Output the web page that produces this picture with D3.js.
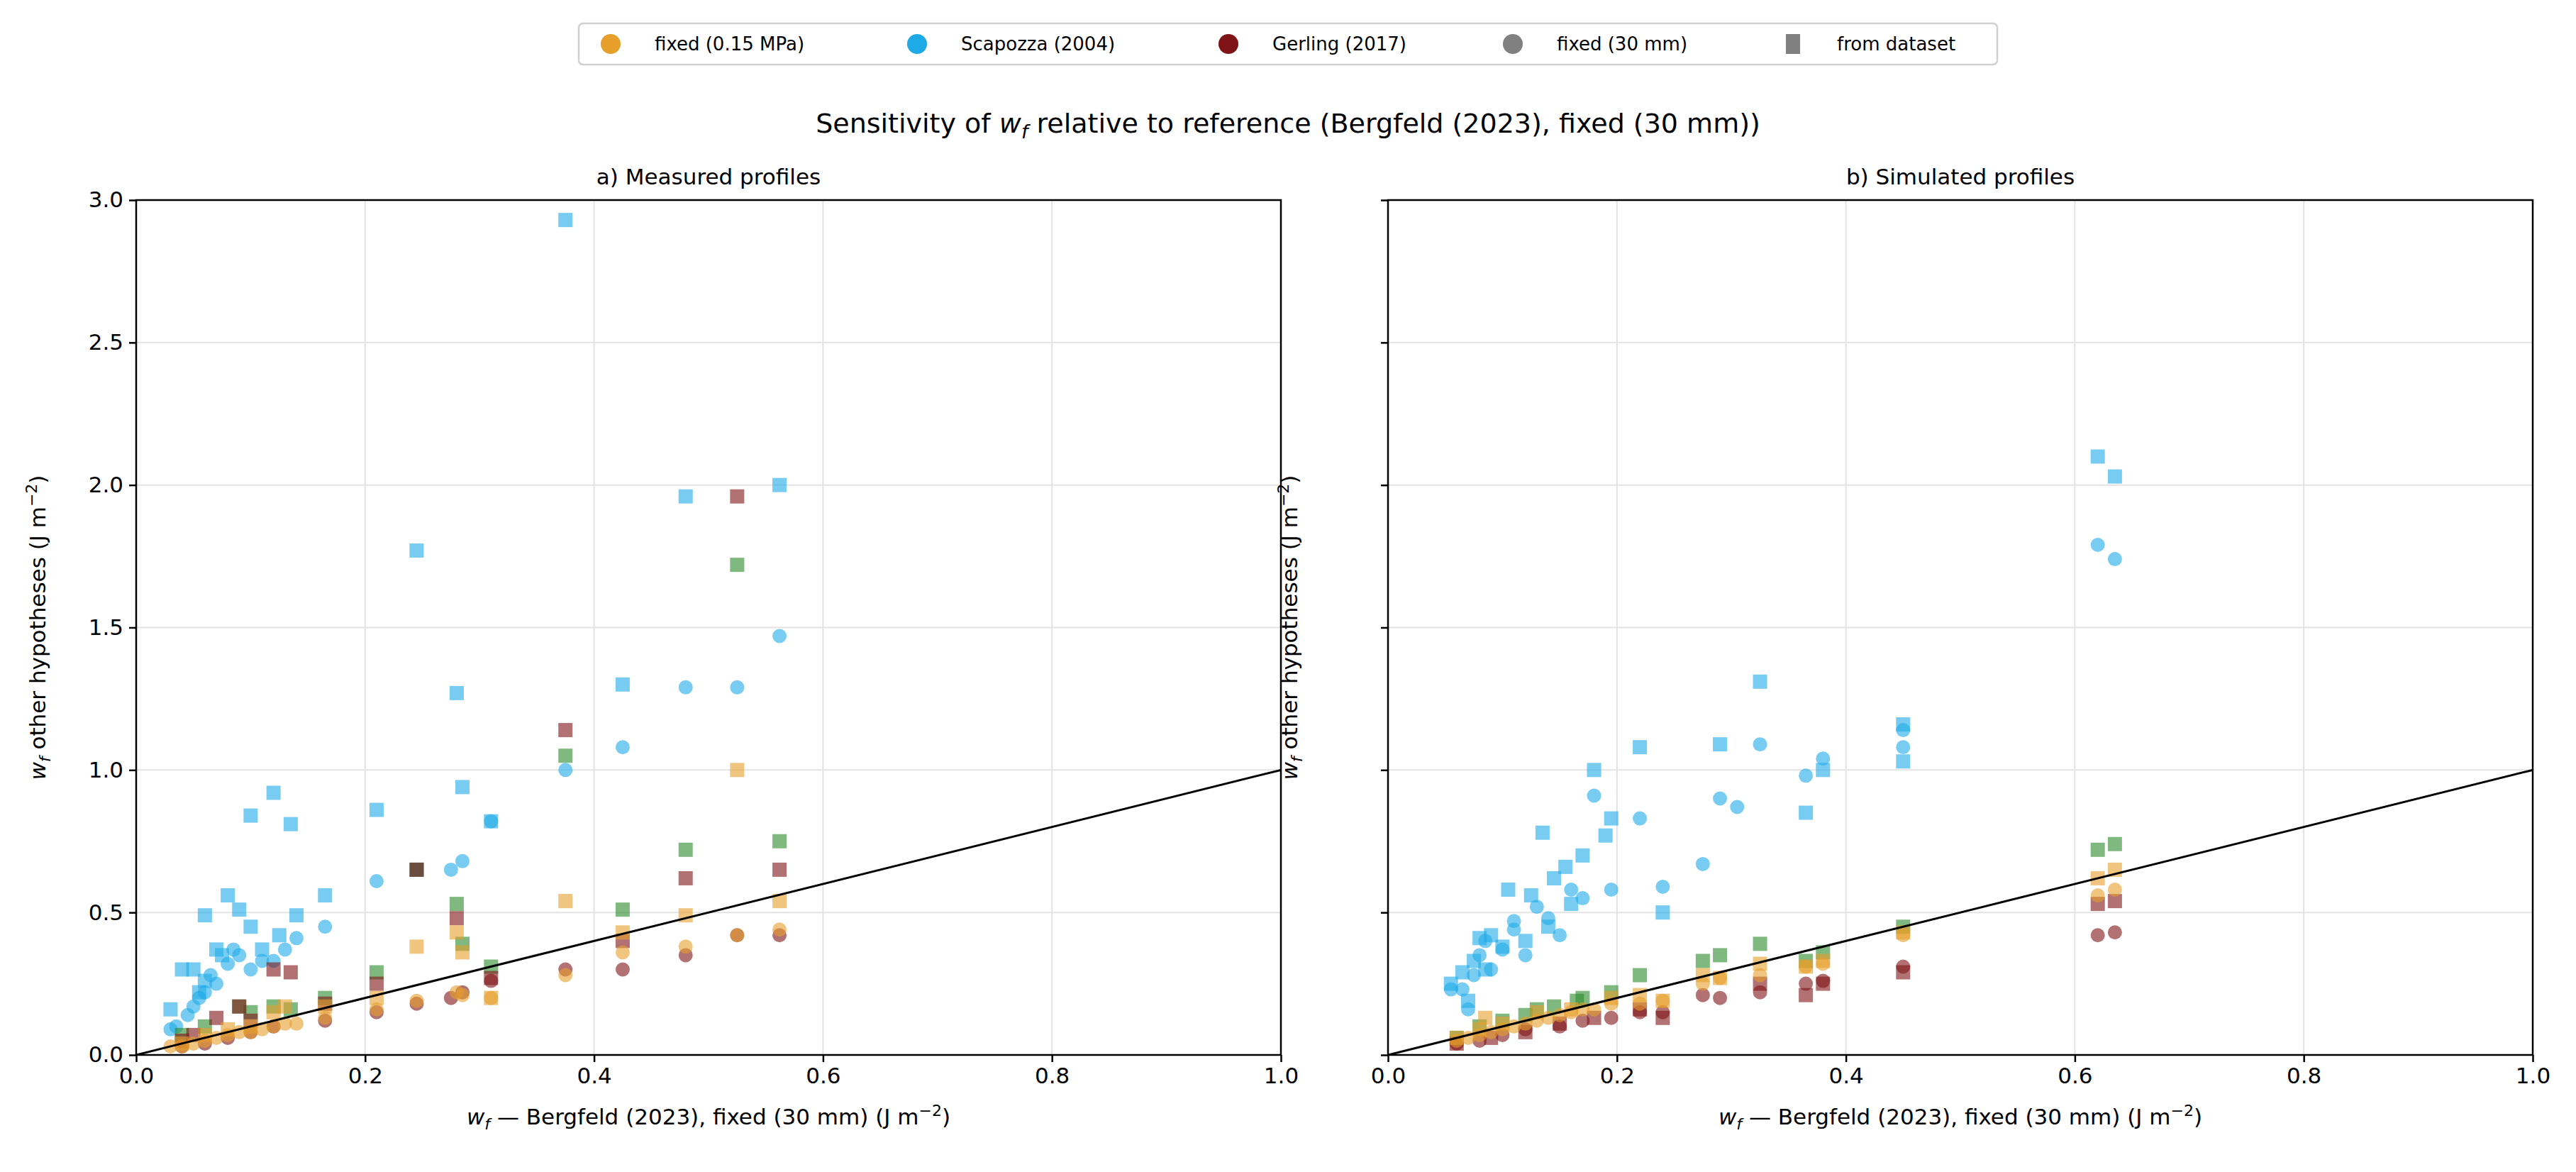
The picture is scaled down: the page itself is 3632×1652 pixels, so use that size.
<!DOCTYPE html>
<html><head><meta charset="utf-8">
<script src="https://cdn.jsdelivr.net/npm/d3@7"></script>
<style>body{margin:0;background:#fff;font-family:"DejaVu Sans",sans-serif;}</style>
</head><body><div id="chart"></div>
<script>
// hypotheses: [x, y] pairs
var colors = {orange: "#e69f2b", blue: "#1eaae7", red: "#7f1416", green: "#2a8a2a"};

var aBlueSq = [[0.375,2.93],[0.245,1.77],[0.28,1.27],[0.48,1.96],[0.562,2.0],[0.425,1.30],[0.285,0.94],[0.31,0.82],[0.21,0.86],[0.12,0.92],[0.10,0.84],[0.135,0.81],[0.245,0.65],[0.165,0.56],[0.08,0.56],[0.14,0.49],[0.06,0.49],[0.09,0.51],[0.10,0.45],[0.04,0.30],[0.03,0.16],[0.05,0.30],[0.07,0.37],[0.11,0.37],[0.125,0.42],[0.055,0.22],[0.06,0.26],[0.075,0.35]];
var aBlueCi = [[0.562,1.47],[0.48,1.29],[0.525,1.29],[0.425,1.08],[0.375,1.0],[0.31,0.82],[0.285,0.68],[0.275,0.65],[0.21,0.61],[0.165,0.45],[0.14,0.41],[0.13,0.37],[0.12,0.33],[0.10,0.30],[0.09,0.35],[0.08,0.32],[0.07,0.25],[0.06,0.22],[0.055,0.20],[0.05,0.17],[0.045,0.14],[0.035,0.10],[0.03,0.09],[0.065,0.28],[0.11,0.33],[0.085,0.37]];
var aGreenSq = [[0.525,1.72],[0.375,1.05],[0.48,0.72],[0.562,0.75],[0.425,0.51],[0.28,0.53],[0.285,0.39],[0.31,0.31],[0.21,0.29],[0.165,0.20],[0.245,0.65],[0.12,0.17],[0.09,0.17],[0.06,0.10],[0.04,0.07],[0.135,0.16],[0.10,0.15]];
var aRedSq = [[0.525,1.96],[0.375,1.14],[0.562,0.65],[0.48,0.62],[0.28,0.48],[0.245,0.65],[0.31,0.27],[0.21,0.25],[0.425,0.40],[0.165,0.18],[0.12,0.30],[0.135,0.29],[0.09,0.17],[0.07,0.13],[0.05,0.07],[0.04,0.05],[0.10,0.12]];
var aOrangeSq = [[0.525,1.0],[0.375,0.54],[0.245,0.38],[0.28,0.43],[0.562,0.54],[0.48,0.49],[0.425,0.43],[0.31,0.20],[0.285,0.36],[0.21,0.20],[0.165,0.17],[0.12,0.15],[0.13,0.17],[0.08,0.09],[0.06,0.07],[0.04,0.04],[0.10,0.10]];
var aOrangeCi = [[0.562,0.44],[0.525,0.42],[0.48,0.38],[0.425,0.36],[0.375,0.28],[0.285,0.21],[0.28,0.22],[0.245,0.19],[0.21,0.16],[0.165,0.13],[0.14,0.11],[0.12,0.10],[0.10,0.08],[0.08,0.07],[0.07,0.06],[0.06,0.05],[0.05,0.04],[0.04,0.03],[0.03,0.03],[0.09,0.08],[0.11,0.09],[0.13,0.11],[0.31,0.20]];
var aRedCi = [[0.562,0.42],[0.525,0.42],[0.48,0.35],[0.425,0.30],[0.375,0.30],[0.285,0.22],[0.275,0.20],[0.31,0.26],[0.245,0.18],[0.21,0.15],[0.165,0.12],[0.12,0.10],[0.10,0.08],[0.08,0.06],[0.06,0.04],[0.04,0.03]];

var bBlueSq = [[0.62,2.10],[0.635,2.03],[0.325,1.31],[0.45,1.16],[0.45,1.03],[0.22,1.08],[0.29,1.09],[0.18,1.0],[0.38,1.0],[0.365,0.85],[0.195,0.83],[0.19,0.77],[0.135,0.78],[0.17,0.70],[0.155,0.66],[0.145,0.62],[0.24,0.50],[0.105,0.58],[0.125,0.56],[0.16,0.53],[0.09,0.42],[0.08,0.41],[0.1,0.38],[0.14,0.45],[0.075,0.33],[0.055,0.25],[0.065,0.29],[0.07,0.19],[0.12,0.40],[0.085,0.30]];
var bBlueCi = [[0.62,1.79],[0.635,1.74],[0.45,1.14],[0.45,1.08],[0.325,1.09],[0.38,1.04],[0.365,0.98],[0.18,0.91],[0.29,0.90],[0.305,0.87],[0.22,0.83],[0.275,0.67],[0.24,0.59],[0.195,0.58],[0.16,0.58],[0.17,0.55],[0.13,0.52],[0.14,0.48],[0.11,0.47],[0.085,0.40],[0.1,0.37],[0.12,0.35],[0.09,0.30],[0.075,0.28],[0.065,0.23],[0.055,0.23],[0.07,0.16],[0.11,0.44],[0.15,0.42],[0.08,0.35]];
var bGreenSq = [[0.635,0.74],[0.62,0.72],[0.45,0.45],[0.325,0.39],[0.29,0.35],[0.275,0.33],[0.365,0.33],[0.38,0.36],[0.22,0.28],[0.195,0.22],[0.165,0.19],[0.13,0.16],[0.1,0.12],[0.08,0.10],[0.06,0.06],[0.17,0.20],[0.145,0.17],[0.12,0.14]];
var bRedSq = [[0.635,0.54],[0.62,0.53],[0.45,0.29],[0.365,0.21],[0.24,0.13],[0.38,0.25],[0.325,0.25],[0.22,0.16],[0.18,0.13],[0.15,0.11],[0.12,0.08],[0.09,0.06],[0.06,0.04]];
var bOrangeSq = [[0.635,0.65],[0.62,0.62],[0.45,0.43],[0.325,0.32],[0.29,0.27],[0.275,0.28],[0.365,0.31],[0.38,0.33],[0.22,0.21],[0.195,0.20],[0.24,0.19],[0.13,0.15],[0.1,0.11],[0.08,0.09],[0.06,0.06],[0.16,0.16],[0.085,0.13]];
var bOrangeCi = [[0.635,0.58],[0.62,0.56],[0.45,0.42],[0.38,0.32],[0.365,0.31],[0.325,0.28],[0.29,0.27],[0.275,0.25],[0.24,0.19],[0.22,0.18],[0.195,0.18],[0.17,0.16],[0.15,0.14],[0.13,0.12],[0.11,0.10],[0.09,0.08],[0.07,0.06],[0.06,0.05],[0.08,0.07],[0.1,0.09],[0.12,0.11],[0.14,0.13],[0.16,0.15],[0.18,0.16]];
var bRedCi = [[0.635,0.43],[0.62,0.42],[0.45,0.31],[0.38,0.26],[0.365,0.25],[0.325,0.22],[0.29,0.20],[0.275,0.21],[0.24,0.15],[0.22,0.15],[0.195,0.13],[0.17,0.12],[0.15,0.10],[0.12,0.09],[0.1,0.07],[0.08,0.05],[0.06,0.04]];

var xTicks = [0, 0.2, 0.4, 0.6, 0.8, 1.0];
var yTicks = [0, 0.5, 1.0, 1.5, 2.0, 2.5, 3.0];
var legendItems = [
  {label: "fixed (0.15 MPa)", color: colors.orange, shape: "circle"},
  {label: "Scapozza (2004)", color: colors.blue, shape: "circle"},
  {label: "Gerling (2017)", color: colors.red, shape: "circle"},
  {label: "fixed (30 mm)", color: "#808080", shape: "circle"},
  {label: "from dataset", color: "#808080", shape: "square"}
];

var W = 3632, H = 1652;
var svg = d3.select("#chart").append("svg").attr("width", W).attr("height", H);

var panels = [
  {left: 192, title: "a)  Measured profiles", yLabels: true,
   series: [[aBlueSq,"blue","sq"],[aBlueCi,"blue","ci"],[aGreenSq,"green","sq"],[aRedSq,"red","sq"],[aRedCi,"red","ci"],[aOrangeSq,"orange","sq"],[aOrangeCi,"orange","ci"]]},
  {left: 1957, title: "b)  Simulated profiles", yLabels: false,
   series: [[bBlueSq,"blue","sq"],[bBlueCi,"blue","ci"],[bGreenSq,"green","sq"],[bRedSq,"red","sq"],[bRedCi,"red","ci"],[bOrangeSq,"orange","sq"],[bOrangeCi,"orange","ci"]]}
];
var plotTop = 282, plotBottom = 1487, pw = 1614;

panels.forEach(function(p){
  var x = d3.scaleLinear().domain([0, 1]).range([p.left, p.left + pw]);
  var y = d3.scaleLinear().domain([0, 3]).range([plotBottom, plotTop]);
  var g = svg.append("g");

  // grid
  g.selectAll(".gx").data(xTicks).enter().append("line")
    .attr("x1", function(d){return x(d);}).attr("x2", function(d){return x(d);})
    .attr("y1", plotTop).attr("y2", plotBottom).attr("stroke", "#e3e3e3").attr("stroke-width", 2);
  g.selectAll(".gy").data(yTicks).enter().append("line")
    .attr("y1", function(d){return y(d);}).attr("y2", function(d){return y(d);})
    .attr("x1", p.left).attr("x2", p.left + pw).attr("stroke", "#e3e3e3").attr("stroke-width", 2);

  var clip = "clip" + p.left;
  svg.append("clipPath").attr("id", clip).append("rect")
    .attr("x", p.left).attr("y", plotTop).attr("width", pw).attr("height", plotBottom - plotTop);
  var marks = g.append("g").attr("clip-path", "url(#" + clip + ")");

  p.series.forEach(function(s){
    var col = colors[s[1]];
    if (s[2] === "ci") {
      marks.selectAll(null).data(s[0]).enter().append("circle")
        .attr("cx", function(d){return x(d[0]);}).attr("cy", function(d){return y(d[1]);})
        .attr("r", 10).attr("fill", col).attr("fill-opacity", 0.6);
    } else {
      marks.selectAll(null).data(s[0]).enter().append("rect")
        .attr("x", function(d){return x(d[0]) - 10;}).attr("y", function(d){return y(d[1]) - 10;})
        .attr("width", 20).attr("height", 20).attr("fill", col).attr("fill-opacity", 0.6);
    }
  });

  // 1:1 line
  marks.append("line").attr("x1", x(0)).attr("y1", y(0)).attr("x2", x(1)).attr("y2", y(1))
    .attr("stroke", "#000").attr("stroke-width", 3);

  g.append("rect").attr("x", p.left).attr("y", plotTop).attr("width", pw).attr("height", plotBottom - plotTop)
    .attr("fill", "none").attr("stroke", "#000").attr("stroke-width", 2.5);

  var xa = g.append("g").attr("transform", "translate(0," + plotBottom + ")")
    .call(d3.axisBottom(x).tickValues(xTicks).tickFormat(d3.format(".1f")).tickSize(10).tickPadding(8));
  var ya = g.append("g").attr("transform", "translate(" + p.left + ",0)")
    .call(d3.axisLeft(y).tickValues(yTicks).tickFormat(p.yLabels ? d3.format(".1f") : "").tickSize(10).tickPadding(8));
  [xa, ya].forEach(function(a){
    a.select(".domain").remove();
    a.selectAll("line").attr("stroke-width", 2.5);
    a.selectAll("text").attr("font-size", 31).attr("font-family", "DejaVu Sans").attr("fill", "#000");
  });

  g.append("text").attr("x", p.left + pw / 2).attr("y", plotTop - 22).attr("text-anchor", "middle")
    .attr("font-size", 31).text(p.title);

  var xl = g.append("text").attr("x", p.left + pw / 2).attr("y", 1585).attr("text-anchor", "middle").attr("font-size", 31);
  xl.append("tspan").attr("font-style", "italic").text("w");
  xl.append("tspan").attr("font-style", "italic").attr("font-size", 22).attr("dy", 7).text("f");
  xl.append("tspan").attr("dy", -7).text(" \u2014 Bergfeld (2023), fixed (30 mm) (J m");
  xl.append("tspan").attr("font-size", 22).attr("dy", -12).text("\u22122");
  xl.append("tspan").attr("dy", 12).text(")");

  var yl = g.append("text").attr("transform", "translate(" + (p.left - 128) + "," + ((plotTop + plotBottom) / 2) + ") rotate(-90)")
    .attr("text-anchor", "middle").attr("font-size", 31);
  yl.append("tspan").attr("font-style", "italic").text("w");
  yl.append("tspan").attr("font-style", "italic").attr("font-size", 22).attr("dy", 7).text("f");
  yl.append("tspan").attr("dy", -7).text(" other hypotheses (J m");
  yl.append("tspan").attr("font-size", 22).attr("dy", -12).text("\u22122");
  yl.append("tspan").attr("dy", 12).text(")");
});

// suptitle
var st = svg.append("text").attr("x", 1816).attr("y", 187).attr("text-anchor", "middle").attr("font-size", 38);
st.append("tspan").text("Sensitivity of ");
st.append("tspan").attr("font-style", "italic").text("w");
st.append("tspan").attr("font-style", "italic").attr("font-size", 27).attr("dy", 8).text("f");
st.append("tspan").attr("dy", -8).text(" relative to reference (Bergfeld (2023), fixed (30 mm))");

// legend
var lg = svg.append("g");
lg.append("rect").attr("x", 816).attr("y", 33).attr("width", 2000).attr("height", 58).attr("rx", 6)
  .attr("fill", "#fff").attr("stroke", "#d0d0d0").attr("stroke-width", 2.5);
var markerX = [861, 1293, 1732, 2133, 2528];
lg.selectAll("g.it").data(legendItems).enter().append("g").each(function(d, i){
  var gg = d3.select(this);
  var cx = markerX[i];
  if (d.shape === "circle") gg.append("circle").attr("cx", cx).attr("cy", 62).attr("r", 14).attr("fill", d.color);
  else gg.append("rect").attr("x", cx - 10).attr("y", 48).attr("width", 20).attr("height", 28).attr("fill", d.color);
  gg.append("text").attr("x", cx + 62).attr("y", 71).attr("font-size", 26).text(d.label);
});
</script></body></html>
